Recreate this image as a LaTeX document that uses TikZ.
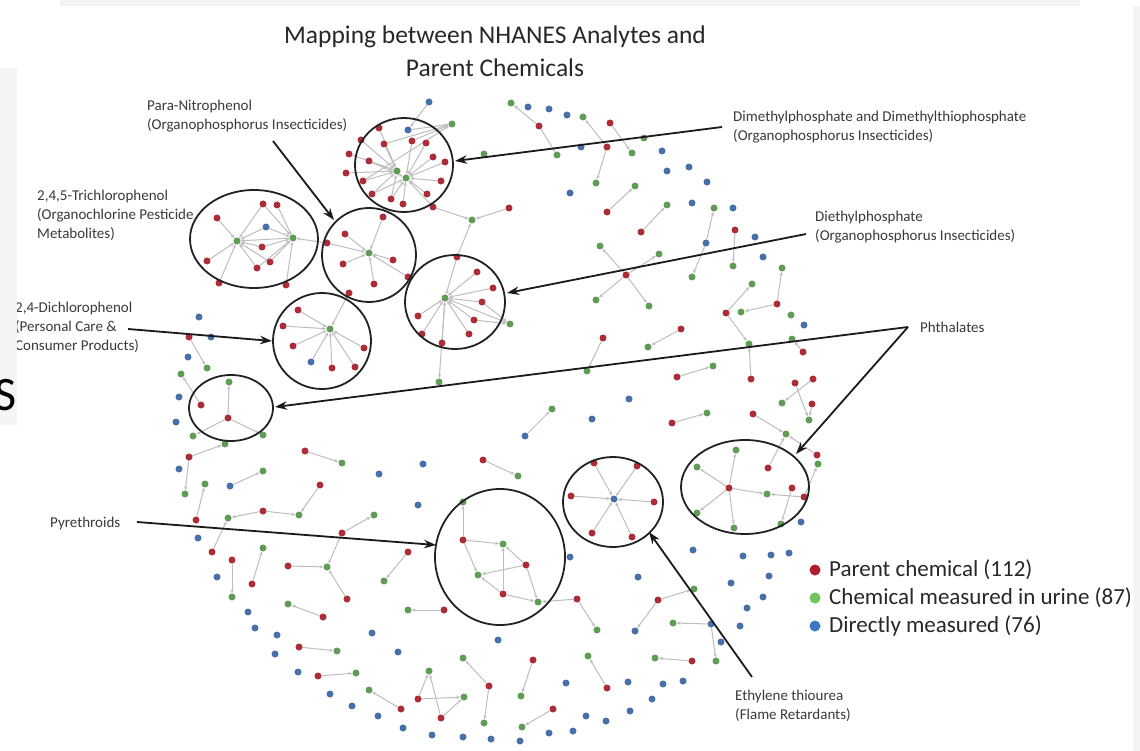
\documentclass[tikz,border=0pt]{standalone}
\usepackage{fontspec}
\setmainfont{Carlito}
\usetikzlibrary{shapes.geometric,arrows.meta}
\pgfdeclarelayer{bg}
\pgfsetlayers{bg,main}
\definecolor{pred}{RGB}{172,44,56}
\definecolor{pgreen}{RGB}{96,156,86}
\definecolor{pblue}{RGB}{72,112,168}
\definecolor{lred}{RGB}{178,30,48}
\definecolor{lgreen}{RGB}{112,196,92}
\definecolor{lblue}{RGB}{62,120,196}
\definecolor{egray}{RGB}{190,190,190}
\definecolor{ringc}{RGB}{34,34,34}
\definecolor{arrc}{RGB}{26,26,26}
\definecolor{labc}{RGB}{58,58,58}
\definecolor{titc}{RGB}{40,40,40}
\definecolor{panelc}{RGB}{244,244,244}
\begin{document}
\begin{tikzpicture}[x=1pt,y=-1pt,
  dot/.style={circle,inner sep=0,minimum size=7pt,draw=none},
  rd/.style={dot,fill=pred}, gd/.style={dot,fill=pgreen}, bd/.style={dot,fill=pblue},
  edge/.style={draw=egray,line width=1pt,-{Stealth[length=4pt,width=3.2pt]}},
  ring/.style={draw=ringc,line width=1.8pt,ellipse,inner sep=0},
  arr/.style={draw=arrc,line width=1.8pt,-{Stealth[length=12pt,width=8.5pt]}},
  lbl/.style={anchor=north west,inner sep=0,align=left,text=labc,font=\fontsize{15}{19}\selectfont},
  legdot/.style={circle,inner sep=0,minimum size=11pt,draw=none},
  legtxt/.style={anchor=west,inner sep=0,text=titc,font=\fontsize{23}{26}\selectfont},
]
\useasboundingbox (0,0) rectangle (1140,751);

% ---------- dots ----------
\foreach \n/\x/\y in {r1/379/128, r2/361/140, r3/384/144, r4/412/141, r5/426/143, r6/433/157, r7/445/162, r8/349/154, r9/369/161, r10/346/173, r11/363/181, r12/441/181, r13/372/194, r14/391/199, r15/403/204, r16/427/194, r17/433/207,
 r18/217/218, r19/263/204, r20/277/205, r21/262/247, r22/207/261, r23/270/262, r24/257/268, r25/219/283, r26/286/285,
 r27/327/243, r28/345/234, r29/343/264, r30/393/260, r31/374/284, r32/383/217, r33/408/277, r34/349/293,
 r35/298/310, r36/283/326, r37/293/346, r38/332/368, r39/355/367, r40/364/348,
 r41/457/257, r42/477/272, r43/493/288, r44/482/302, r45/474/320, r46/469/334, r47/442/343, r48/422/334, r49/418/316,
 r50/509/208, r51/610/123, r52/539/126, r53/607/147, r54/607/212, r55/641/232, r56/735/230, r57/626/275,
 r58/777/304, r59/726/313, r60/603/338, r61/681/329, r62/677/377, r63/751/379, r64/672/423, r65/753/414, r66/483/460,
 r67/803/352, r68/795/383, r69/813/379, r70/812/404, r71/817/455, r72/729/488, r73/792/488, r74/804/497, r75/768/468,
 r76/594/463, r77/637/466, r78/571/496, r79/654/502, r80/592/533, r81/632/537,
 r82/463/540, r83/526/565, r84/503/594, r85/577/599, r86/444/610, r87/658/600, r88/692/661,
 r89/299/647, r90/318/676, r91/533/660, r92/607/688, r93/401/709, r94/418/699, r95/441/718, r96/489/686, r97/553/709,
 r100/189/457, r101/305/451, r102/196/520, r103/320/485, r104/263/511, r105/212/552, r106/342/533, r107/288/566, r108/347/599, r109/232/560, r110/252/584, r111/408/552, r112/323/617,
 r113/189/337, r114/201/405, r115/228/418}
  \node[rd] (\n) at (\x,\y) {};

\foreach \n/\x/\y in {g1/452/124, g2/397/171, g3/406/178, g4/472/220, g5/237/241, g6/293/238, g7/369/253, g8/330/329, g9/445/298, g10/510/324, g11/439/382,
 g12/511/103, g13/583/117, g14/644/138, g15/484/154, g16/557/155, g17/632/153, g18/596/183, g19/635/186, g20/667/205, g21/714/208, g22/600/246, g23/659/254, g24/733/266, g25/782/268, g26/692/277, g27/752/284,
 g28/596/300, g29/649/306, g30/741/312, g31/648/347, g32/749/344, g33/587/371, g34/713/366, g35/552/409, g36/707/413, g37/782/403, g38/786/434, g39/518/476,
 g40/791/315, g41/792/339, g42/809/420, g43/818/464, g44/736/450, g45/697/467, g46/767/494, g47/697/513, g48/734/528, g49/781/524,
 g50/463/502, g51/503/544, g52/478/575, g53/538/602, g54/597/630, g55/408/610, g56/694/589, g57/673/623, g58/716/661, g59/655/658,
 g60/337/651, g61/356/673, g62/463/658, g63/521/696, g64/588/656, g65/429/671, g66/369/690, g67/464/697, g68/484/723, g69/522/727,
 g70/263/471, g71/185/494, g72/225/444, g73/342/463, g74/205/484, g75/299/515, g76/228/518, g77/374/515, g78/327/567, g79/232/597, g80/263/548, g81/384/581, g82/288/604,
 g83/207/368, g84/229/382, g85/181/374, g86/193/436, g87/263/435}
  \node[gd] (\n) at (\x,\y) {};

\foreach \n/\x/\y in {b1/429/102, b2/408/130, b3/266/227, b4/311/362, b5/528/107, b6/549/109, b7/567/115, b8/581/147, b9/662/151, b10/667/171, b11/689/167, b12/707/182, b13/570/193, b14/692/203, b15/733/208, b16/755/237, b17/706/243, b18/763/257, b19/629/399, b20/592/419, b21/525/436, b22/804/325, b23/801/522, b24/614/499, b25/570/557, b26/498/640, b27/693/550, b28/638/577, b29/731/583, b30/635/631, b31/711/624, b32/721/642, b33/743/556, b34/771/555, b35/789/553, b36/769/576, b37/763/597, b38/747/608, b39/740/626, b40/683/681, b41/663/684, b42/652/699, b43/255/628, b44/277/635, b45/372/633, b47/275/654, b48/398/652, b49/298/672, b50/330/694, b51/566/683, b52/628/682, b53/352/706, b54/378/716, b55/403/728, b56/432/735, b57/463/737, b58/491/739, b59/520/741, b60/549/733, b61/573/731, b62/586/716, b63/606/721, b64/630/711, b65/179/469, b66/230/486, b67/423/464, b68/379/474, b69/198/538, b70/418/505, b71/217/577, b72/248/612, b73/199/317, b74/211/337, b75/188/357, b76/179/397, b77/176/422}
  \node[bd] (\n) at (\x,\y) {};

% ---------- edges ----------
\begin{pgfonlayer}{bg}
\fill[white] (0,0) rectangle (1140,751);
\foreach \a/\b in {r1/g2, r2/g2, r3/g2, r8/g2, r9/g2, r10/g2, r11/g2, r13/g2, r14/g2, r4/g3, r5/g3, r6/g3, r7/g3, r12/g3, r15/g3, r16/g3, r17/g3, r13/g3, r14/g3, r9/g3, r3/g1, r4/g1, r11/g1, b2/g1, b1/b2,
 r17/g4, r50/g4, r41/g4,
 r18/g5, r22/g5, r25/g5, r24/g5, r21/g5, r19/g5, r23/g5, b3/g5, r19/g6, r20/g6, b3/g6, r21/g6, r23/g6, r26/g6, r24/g6, g6/g5, r27/g6,
 r27/g7, r28/g7, r29/g7, r30/g7, r31/g7, r32/g7, r33/g7,
 r34/g8, r35/g8, r36/g8, r37/g8, b4/g8, r38/g8, r39/g8, r40/g8,
 r41/g9, r42/g9, r43/g9, r44/g9, r45/g9, r46/g9, r47/g9, r48/g9, r49/g9, g9/g10, g9/g11, r44/g10, r45/g10,
 r52/g12, r52/g16, r53/g13, r53/g18, r51/g17, r54/g19, r55/g20, b17/g21, b17/g26, r56/g24, r57/g22, r57/g23, r57/g28, r57/g29,
 r59/g27, r59/g32, r58/g30, r58/g25, r63/g32, r60/g33, r61/g31, r62/g34, b21/g35, r64/g36, r65/g38, r66/g39,
 r67/g41, r69/g37, r68/g42, r70/g42, r71/g38, r75/g38, r74/g43,
 r72/g44, r72/g45, r72/g46, r72/g47, r72/g48, r74/g46, r73/g49,
 r76/b24, r77/b24, r78/b24, r79/b24, r80/b24, r81/b24,
 r82/g50, r82/g51, r82/g52, r83/g51, r83/g52, r84/g52, r84/g51, r84/g53, r83/g53, r85/g53, r85/g54, r86/g55,
 r87/g56, r87/b30, b31/g57, b31/g58, r88/g59,
 r89/g60, r90/g61, r91/g63, r92/g64, r93/g66, r94/g65, r94/g67, r95/g65, r95/g67, r96/g62, r96/g68, r97/g69,
 b66/g70, r100/g71, r100/g72, r101/g73, r102/g74, r103/g75, r104/g76, r104/g75, r105/g76, r106/g77, r106/g78, r107/g78, r108/g78, r109/g79, r110/g80, r111/g81, r112/g82,
 r113/g83, r114/g85, r115/g84, r115/g86, r115/g87}
  \draw[edge] (\a) -- (\b);
\end{pgfonlayer}

% ---------- rings ----------
\node[ring,minimum width=98pt,minimum height=94pt] (cDMP) at (404,165) {};
\node[ring,minimum width=128pt,minimum height=98pt] (cTCP) at (254,239) {};
\node[ring,minimum width=94pt,minimum height=94pt] (cPNP) at (369,255) {};
\node[ring,minimum width=100pt,minimum height=94pt] (cDEP) at (455,302) {};
\node[ring,minimum width=98pt,minimum height=96pt] (cDCP) at (322,341) {};
\node[ring,minimum width=84pt,minimum height=66pt] (cPhL) at (231,408) {};
\node[ring,minimum width=130pt,minimum height=136pt] (cPyr) at (500,557) {};
\node[ring,minimum width=100pt,minimum height=90pt] (cETU) at (613,502) {};
\node[ring,minimum width=128pt,minimum height=94pt] (cPhR) at (745,487) {};

% ---------- title ----------
\node[text=titc,font=\fontsize{25.5}{30}\selectfont,inner sep=0] (title1) at (495,37) {Mapping between NHANES Analytes and};
\node[text=titc,font=\fontsize{25.5}{30}\selectfont,inner sep=0] (title2) at (495,68) {Parent Chemicals};

% ---------- labels ----------
\node[lbl] (lPNP) at (147,100) {Para-Nitrophenol\\(Organophosphorus Insecticides)};
\node[lbl] (lDMP) at (733,111) {Dimethylphosphate and Dimethylthiophosphate\\(Organophosphorus Insecticides)};
\node[lbl] (lTCP) at (37,190) {2,4,5-Trichlorophenol\\(Organochlorine Pesticide\\Metabolites)};
\node[lbl] (lDEP) at (815,211) {Diethylphosphate\\(Organophosphorus Insecticides)};
\node[lbl] (lDCP) at (15,302) {2,4-Dichlorophenol\\(Personal Care \&\\Consumer Products)};
\node[lbl,anchor=west] (lPht) at (920,327) {Phthalates};
\node[lbl,anchor=west] (lPyr) at (50,523) {Pyrethroids};
\node[lbl] (lETU) at (735,690) {Ethylene thiourea\\(Flame Retardants)};

% ---------- arrows ----------
\coordinate (sPNP) at (273,141);  \coordinate (tPNP) at (334,220);
\coordinate (sDMP) at (722,127);  \coordinate (tDMP) at (455,161);
\coordinate (sDEP) at (806,234);  \coordinate (tDEP) at (507,293);
\coordinate (sDCP) at (128,329);  \coordinate (tDCP) at (272,341);
\coordinate (sPht) at (908,327);  \coordinate (tPhL) at (275,407); \coordinate (tPhR) at (796,454);
\coordinate (sPyr) at (137,522);  \coordinate (tPyr) at (436,545);
\coordinate (sETU) at (752,677);  \coordinate (tETU) at (649,532);
\draw[arr] (sPNP) -- (tPNP);
\draw[arr] (sDMP) -- (tDMP);
\draw[arr] (sDEP) -- (tDEP);
\draw[arr] (sDCP) -- (tDCP);
\draw[arr] (sPht) -- (tPhL);
\draw[arr] (sPht) -- (tPhR);
\draw[arr] (sPyr) -- (tPyr);
\draw[arr] (sETU) -- (tETU);

% ---------- legend ----------
\node[legdot,fill=lred] (kR) at (815,570) {};
\node[legdot,fill=lgreen] (kG) at (815,598) {};
\node[legdot,fill=lblue] (kB) at (815,626) {};
\node[legtxt] (tR) at (829,570) {Parent chemical (112)};
\node[legtxt] (tG) at (829,598) {Chemical measured in urine (87)};
\node[legtxt] (tB) at (829,626) {Directly measured (76)};

% ---------- screenshot edges ----------
\fill[panelc] (0,68) rectangle (17,425);
\fill[panelc] (60,0) rectangle (1080,6);
\fill[panelc] (1133,6) rectangle (1140,751);
\begin{scope}
\clip (0,0) rectangle (17,751);
\node[anchor=east,inner sep=0,font=\fontsize{48}{50}\selectfont] (sGlyph) at (17,395) {S};
\end{scope}
\end{tikzpicture}
\end{document}
